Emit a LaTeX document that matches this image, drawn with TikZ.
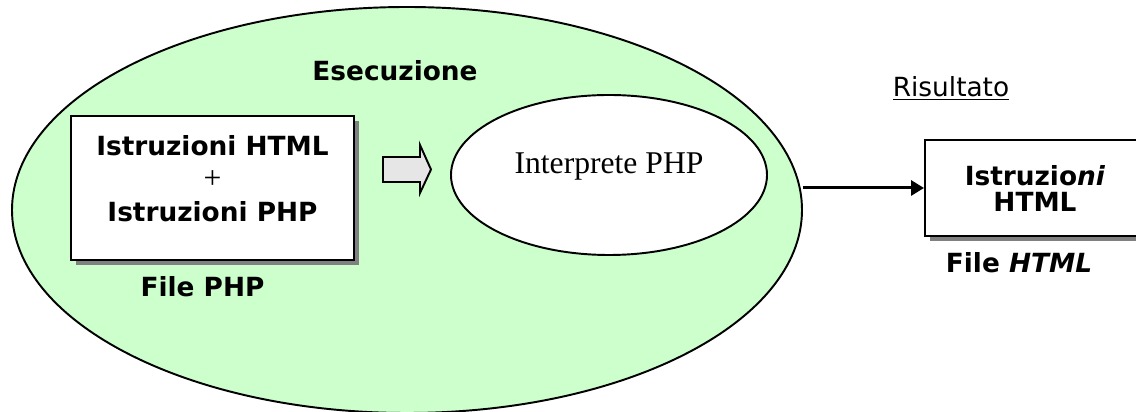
\documentclass[tikz,border=0pt]{standalone}
\usepackage{fontspec}
\setmainfont{DejaVu Sans}
\newfontfamily\serifrm{Liberation Serif}
\usepackage{tikz}
\usetikzlibrary{shapes,shadows,arrows.meta}
\definecolor{execgreen}{HTML}{CCFFCC}
\definecolor{shadowgray}{HTML}{808080}
\definecolor{arrowgray}{HTML}{E6E6E6}
\newcommand{\tikzBlockArrow}[1]{
  \path[draw,fill=arrowgray] (#1) -- ++(0.74,0) -- ++(0,0.24) -- ++(0.22,-0.49)
    -- ++(-0.22,-0.47) -- ++(0,0.22) -- ++(-0.74,0) -- cycle;
}

\begin{document}
\begin{tikzpicture}[line width=1.1pt, font=\fontsize{15}{18.8}\selectfont\bfseries,
  filebox/.style={draw,rectangle,fill=white,
    general shadow={shadow xshift=0.1cm,shadow yshift=-0.1cm,fill=shadowgray}}]
  \useasboundingbox (0,0) rectangle (22.72,-8.24);

  \node [draw,ellipse,fill=execgreen,minimum width=15.8cm,minimum height=8.12cm] (exec) at (8.14,-4.2) {};
  \node (esec) at (7.9,-1.42) {Esecuzione};

  \node [filebox,minimum width=5.66cm,minimum height=2.88cm] (phpbox) at (4.25,-3.76) {};
  \node [align=center] (phptext) at (4.25,-3.58) {Istruzioni HTML\\{\serifrm\mdseries\fontsize{18}{18}\selectfont +}\\Istruzioni PHP};
  \node (phplabel) at (4.05,-5.74) {File PHP};

  \tikzBlockArrow{7.66,-3.14}

  \node [draw,ellipse,fill=white,minimum width=6.32cm,minimum height=3.2cm] (interp) at (12.18,-3.5) {};
  \node [font=\serifrm\fontsize{18}{18}\selectfont] (interptext) at (12.18,-3.33) {Interprete PHP};

  \node [filebox,minimum width=4.4cm,minimum height=1.92cm,align=center,
    font=\fontsize{15}{14.8}\selectfont\bfseries] (htmlbox) at (20.7,-3.76) {Istruzio\textit{ni}\\HTML};
  \node (risultato) at (19.02,-1.76) {\mdseries\underline{Risultato}};
  \node (htmllabel) at (20.38,-5.26) {File \textit{HTML}};

  \draw [-{Triangle[length=0.26cm,width=0.3cm]},line width=1.7pt] (exec.east |- htmlbox.west) -- (htmlbox.west);
\end{tikzpicture}
\end{document}
